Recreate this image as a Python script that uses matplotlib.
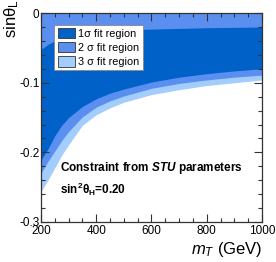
import matplotlib
matplotlib.use("Agg")
from matplotlib import pyplot as plt
from matplotlib.ticker import MultipleLocator, FixedFormatter, FixedLocator
from matplotlib.patches import Patch

plt.rcParams['font.family'] = ['Liberation Sans', 'DejaVu Sans']
plt.rcParams['axes.unicode_minus'] = False
plt.rcParams['mathtext.fontset'] = 'custom'
plt.rcParams['mathtext.rm'] = 'Liberation Sans'
plt.rcParams['mathtext.it'] = 'Liberation Sans:italic'
plt.rcParams['mathtext.bf'] = 'Liberation Sans:bold'
plt.rcParams['mathtext.bfit'] = 'Liberation Sans:italic:bold'

# top quark partner mass (GeV)
m_t = [200, 225, 250, 275, 300, 350, 400, 450, 500, 600, 700, 800, 900, 1000]

# 1 sigma band edges
sig1_upper = [-0.052, -0.045, -0.040, -0.036, -0.033, -0.029, -0.027, -0.025, -0.024, -0.023, -0.022, -0.021, -0.0205, -0.020]
sig1_lower = [-0.211, -0.195, -0.176, -0.161, -0.150, -0.134, -0.123, -0.115, -0.109, -0.099, -0.092, -0.087, -0.083, -0.080]
# 2 and 3 sigma lower edges (upper edge is above 0)
sig2_lower = [-0.230, -0.213, -0.198, -0.183, -0.170, -0.149, -0.135, -0.126, -0.119, -0.108, -0.101, -0.096, -0.092, -0.089]
sig3_lower = [-0.256, -0.240, -0.222, -0.204, -0.189, -0.161, -0.146, -0.136, -0.128, -0.117, -0.110, -0.104, -0.100, -0.096]

c1 = '#0061c9'
c2 = '#5a8ff0'
c3 = '#a3cdfd'

fig = plt.figure(figsize=(2.76, 2.62), dpi=100)
ax = fig.add_axes([0.1486, 0.1527, 0.8004, 0.7973])

ax.fill_between(m_t, 0.05, sig3_lower, color=c3, lw=0)
ax.fill_between(m_t, 0.05, sig2_lower, color=c2, lw=0)
ax.fill_between(m_t, sig1_upper, sig1_lower, color=c1, lw=0)

ax.set_xlim(200, 1000)
ax.set_ylim(-0.3, 0)

ax.xaxis.set_major_locator(MultipleLocator(200))
ax.xaxis.set_minor_locator(MultipleLocator(50))
ax.yaxis.set_major_locator(FixedLocator([-0.3, -0.2, -0.1, 0]))
ax.yaxis.set_major_formatter(FixedFormatter(['-0.3', '-0.2', '-0.1', '0']))
ax.yaxis.set_minor_locator(MultipleLocator(0.02))
ax.tick_params(which='both', direction='in', top=True, right=True, labelsize=8.5, width=0.8, colors='#333333', labelcolor='black')
ax.tick_params(which='major', length=6)
ax.tick_params(which='minor', length=3)
ax.tick_params(axis='x', pad=2)
ax.tick_params(axis='y', pad=1)
for s in ax.spines.values():
    s.set_linewidth(0.9)
    s.set_color('#333333')

ax.set_xlabel(r'$m_T$ (GeV)', fontsize=12, loc='right', labelpad=2)
ax.set_ylabel(r'sin$\mathregular{\theta_L}$', fontsize=12, ha='right', va='center')
ax.yaxis.set_label_coords(-0.135, 1.065)

handles = [Patch(facecolor=c1, edgecolor='#333333', lw=0.6, label='1\u03c3 fit region'),
           Patch(facecolor=c2, edgecolor='#333333', lw=0.6, label='2 \u03c3 fit region'),
           Patch(facecolor=c3, edgecolor='#333333', lw=0.6, label='3 \u03c3 fit region')]
leg = ax.legend(handles=handles, loc='upper left', bbox_to_anchor=(0.06, 0.945), fontsize=7.8,
                frameon=True, fancybox=False, edgecolor='#888888', framealpha=1,
                handlelength=1.6, handleheight=1.1, handletextpad=0.3, labelspacing=0.3,
                borderpad=0.3, borderaxespad=0)
leg.get_frame().set_linewidth(0.6)

ax.text(0.085, 0.245, r'Constraint from $\mathbfit{STU}$ parameters', transform=ax.transAxes,
        fontsize=8.5, fontweight='bold')
ax.text(0.085, 0.135, r'$\mathbf{sin^2\theta_H}$=0.20', transform=ax.transAxes,
        fontsize=8.5, fontweight='bold')

fig.savefig('out.png', dpi=100)
